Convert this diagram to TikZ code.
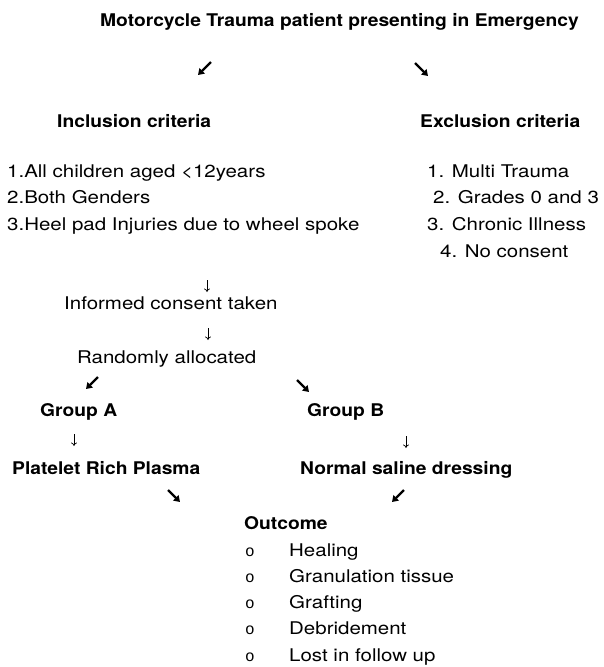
\documentclass[tikz,border=0pt]{standalone}
\usepackage{fontspec}
\setmainfont{TeX Gyre Heros}[UprightFeatures={FakeStretch=1.17},BoldFeatures={FakeStretch=1.10}]
\newfontfamily\bulletfont{Liberation Mono}
\usetikzlibrary{arrows.meta}
\tikzset{
  txt/.style={anchor=base west, inner sep=0pt, font=\fontsize{17.5}{20}\selectfont},
  btxt/.style={txt, font=\fontsize{17.5}{20}\selectfont\bfseries},
  bul/.style={anchor=base west, inner sep=0pt, font=\bulletfont\fontsize{16}{18}\selectfont},
  diag/.style={line width=2.4pt, -{Triangle[length=6pt,width=7.5pt]}},
  down/.style={line width=0.7pt, -{To[length=3.5pt,width=6pt]}}
}
\begin{document}
\begin{tikzpicture}[x=1pt,y=-1pt]
\useasboundingbox (0,0) rectangle (604,667);
\node[btxt] (title) at (100,26) {Motorcycle Trauma patient presenting in Emergency};
\node[btxt] (inc) at (57,127) {Inclusion criteria};
\node[btxt] (exc) at (420,127) {Exclusion criteria};
\node[txt] (i1) at (7,177) {1.All children aged <12years};
\node[txt] (i2) at (7,203) {2.Both Genders};
\node[txt] (i3) at (7,230) {3.Heel pad Injuries due to wheel spoke};
\node[txt] (e1) at (427,177) {1. Multi Trauma};
\node[txt] (e2) at (433,203) {2. Grades 0 and 3};
\node[txt] (e3) at (427,230) {3. Chronic Illness};
\node[txt] (e4) at (440,257) {4. No consent};
\node[txt] (cons) at (64,309) {Informed consent taken};
\node[txt] (rand) at (77,363) {Randomly allocated};
\node[btxt] (ga) at (40,416) {Group A};
\node[btxt] (gb) at (307,416) {Group B};
\node[btxt] (prp) at (12,474) {Platelet Rich Plasma};
\node[btxt] (nsd) at (300,474) {Normal saline dressing};
\node[btxt] (out) at (244,529) {Outcome};
\foreach \t/\y [count=\k] in {Healing/556,Granulation tissue/582,Grafting/608,Debridement/634,Lost in follow up/661}{
  \node[bul] (b\k) at (245,\y) {o};
  \node[txt] (o\k) at (289,\y) {\t};
}
% arrows
\coordinate (a1s) at (211,62); \coordinate (a1e) at (198,75);
\coordinate (a2s) at (415,63); \coordinate (a2e) at (428,76);
\coordinate (d1s) at (207,280); \coordinate (d1e) at (207,292);
\coordinate (d2s) at (208,328); \coordinate (d2e) at (208,340);
\coordinate (a3s) at (98,377); \coordinate (a3e) at (86,389);
\coordinate (a4s) at (297,380); \coordinate (a4e) at (309,392);
\coordinate (d3s) at (74,434); \coordinate (d3e) at (74,446);
\coordinate (d4s) at (406,436); \coordinate (d4e) at (406,448);
\coordinate (a5s) at (168,490); \coordinate (a5e) at (180,502);
\coordinate (a6s) at (404,490); \coordinate (a6e) at (392,502);
\draw[diag] (a1s) -- (a1e);
\draw[diag] (a2s) -- (a2e);
\draw[down] (d1s) -- (d1e);
\draw[down] (d2s) -- (d2e);
\draw[diag] (a3s) -- (a3e);
\draw[diag] (a4s) -- (a4e);
\draw[down] (d3s) -- (d3e);
\draw[down] (d4s) -- (d4e);
\draw[diag] (a5s) -- (a5e);
\draw[diag] (a6s) -- (a6e);
\end{tikzpicture}
\end{document}
